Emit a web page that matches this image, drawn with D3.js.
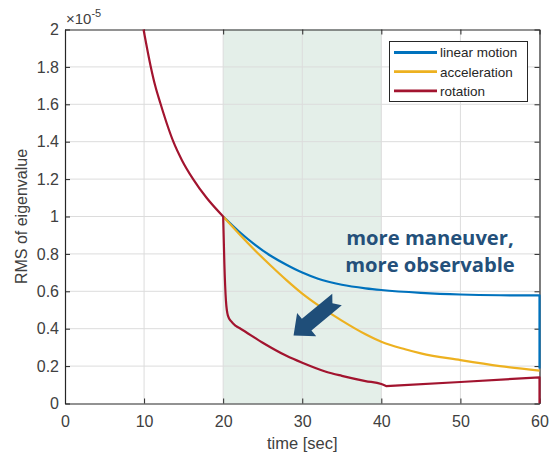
<!DOCTYPE html>
<html><head><meta charset="utf-8">
<script src="https://cdn.jsdelivr.net/npm/d3@7"></script>
<style>body{margin:0;background:#fff}svg{display:block}</style>
</head><body>
<svg id="c" width="550" height="454"></svg>
<script>
// ---- data ----
const xTicks = [0,10,20,30,40,50,60];
const yTicks = [0,0.2,0.4,0.6,0.8,1,1.2,1.4,1.6,1.8,2];
const yTickLabels = ["0","0.2","0.4","0.6","0.8","1","1.2","1.4","1.6","1.8","2"];
const shadeRange = [20,40];
const seriesNames = ["linear motion","acceleration","rotation"];
const seriesColors = ["#0072BD","#EDB120","#A2142F"];
// smooth pieces of each curve (pieces joined with straight segments)
const linearMotion = [[[20,1.0],[22,0.92],[24,0.85],[26,0.79],[28,0.742],[30,0.70],[32,0.667],[35,0.635],[38,0.616],[40,0.607],[45,0.592],[50,0.583],[55,0.579],[60,0.578]]];
const acceleration = [[[20,1.0],[22,0.908],[24,0.82],[26,0.738],[28,0.66],[30,0.588],[32,0.526],[35,0.443],[38,0.37],[40,0.33],[43,0.29],[45,0.268],[50,0.232],[55,0.2],[60,0.176]]];
const rotation = [
  [[9.93,2.0],[10.85,1.8],[11.4,1.7],[12.1,1.6],[12.85,1.5],[13.7,1.4],[14.8,1.3],[16.2,1.2],[17.9,1.1],[20,1.0]],
  [[20,1.0],[20.15,0.75],[20.35,0.55],[20.6,0.47],[21,0.44],[21.6,0.415],[22.2,0.4],[25,0.325],[28,0.255],[30,0.218],[33,0.17],[35,0.148],[38,0.12],[40,0.104],[40.6,0.093]],
  [[40.6,0.093],[50,0.115],[60,0.14]]
];
// final vertical drop of each curve at t = 60
const endDrop = [[60,0.187],[60,0.176],[60,0.0]];
const seriesData = [linearMotion, acceleration, rotation];
const annoLines = ["more maneuver,","more observable"];
const arrowTail = [34.4,0.556];
const arrowTip = [28.9,0.364];

// ---- layout ----
const L=65, R=539.5, T=29.5, B=403.5;
const svg = d3.select("#c");
const x = d3.scaleLinear().domain([0,60]).range([L,R]);
const y = d3.scaleLinear().domain([0,2]).range([B,T]);
const axisColor = "#262626";
const font = "'Liberation Sans', Arial, sans-serif";

// shading
svg.append("rect").attr("x",x(shadeRange[0])).attr("y",T)
  .attr("width",x(shadeRange[1])-x(shadeRange[0])).attr("height",B-T)
  .attr("fill","#e4efe9");

// grid
const g = svg.append("g");
g.selectAll(".gx").data(xTicks.slice(1,-1)).join("line")
  .attr("x1",d=>x(d)).attr("x2",d=>x(d)).attr("y1",T).attr("y2",B)
  .attr("stroke","#dcdcdc").attr("stroke-width",1);
g.selectAll(".gy").data(yTicks.slice(1,-1)).join("line")
  .attr("y1",d=>y(d)).attr("y2",d=>y(d)).attr("x1",L).attr("x2",R)
  .attr("stroke","#dcdcdc").attr("stroke-width",1);

// axes
const xa = svg.append("g").attr("transform",`translate(0,${B})`)
  .call(d3.axisBottom(x).tickValues(xTicks).tickSizeInner(-5).tickSizeOuter(0).tickPadding(12));
const xt = svg.append("g").attr("transform",`translate(0,${T})`)
  .call(d3.axisTop(x).tickValues(xTicks).tickSizeInner(-5).tickSizeOuter(0).tickFormat(""));
const ya = svg.append("g").attr("transform",`translate(${L},0)`)
  .call(d3.axisLeft(y).tickValues(yTicks).tickFormat((d,i)=>yTickLabels[i]).tickSizeInner(-5).tickSizeOuter(0).tickPadding(6));
const yr = svg.append("g").attr("transform",`translate(${R},0)`)
  .call(d3.axisRight(y).tickValues(yTicks).tickSizeInner(-5).tickSizeOuter(0).tickFormat(""));
[xa,xt,ya,yr].forEach(a=>{
  a.selectAll("path").attr("stroke",axisColor).attr("stroke-width",1.2);
  a.selectAll("line").attr("stroke",axisColor);
  a.selectAll("text").attr("fill","#404040").attr("font-family",font).attr("font-size",16);
});

// lines
const smooth = d3.line().x(d=>x(d[0])).y(d=>y(d[1])).curve(d3.curveMonotoneX);
const straight = d3.line().x(d=>x(d[0])).y(d=>y(d[1]));
svg.append("defs").append("clipPath").attr("id","clip").append("rect")
  .attr("x",L).attr("y",T-1).attr("width",R-L+2).attr("height",B-T+1);
seriesData.forEach((pieces,i)=>{
  let d = "";
  pieces.forEach((s,k)=>{
    const p = smooth(s);
    d += (k===0 ? p : p.replace(/^M/,"L"));
  });
  const lastPiece = pieces[pieces.length-1];
  const last = lastPiece[lastPiece.length-1];
  d += straight([last,endDrop[i]]).replace(/^M/,"L");
  svg.append("path").attr("d",d)
    .attr("fill","none")
    .attr("stroke",seriesColors[i]).attr("stroke-width",2.2)
    .attr("stroke-linejoin","round").attr("clip-path","url(#clip)");
});

// exponent label
const ex = svg.append("text").attr("x",L+1).attr("y",24).attr("fill","#404040")
  .attr("font-family",font).attr("font-size",15);
ex.append("tspan").text("\u00d710");
ex.append("tspan").attr("dy",-7).attr("font-size",11).text("-5");

// axis labels
svg.append("text").attr("x",x(30)).attr("y",449).attr("text-anchor","middle")
  .attr("fill","#404040").attr("font-family",font).attr("font-size",16.5).text("time [sec]");
svg.append("text").attr("transform",`translate(27,${(T+B)/2}) rotate(-90)`).attr("text-anchor","middle")
  .attr("fill","#404040").attr("font-family",font).attr("font-size",16).text("RMS of eigenvalue");

// legend
const lg = svg.append("g");
lg.append("rect").attr("x",389.5).attr("y",41.5).attr("width",138).attr("height",60)
  .attr("fill","#fff").attr("stroke",axisColor).attr("stroke-width",1);
seriesNames.forEach((n,i)=>{
  const yy = 52.5 + i*19.2;
  lg.append("line").attr("x1",394).attr("x2",437).attr("y1",yy).attr("y2",yy)
    .attr("stroke",seriesColors[i]).attr("stroke-width",2.8);
  lg.append("text").attr("x",440).attr("y",yy+4.8).attr("fill","#262626")
    .attr("font-family",font).attr("font-size",13.5).text(n);
});

// annotation
annoLines.forEach((t,i)=>{
  svg.append("text").attr("x",430).attr("y",245+i*26.5).attr("text-anchor","middle")
    .attr("fill","#24507a").attr("font-family","'Open Sans', sans-serif").attr("font-weight","bold")
    .attr("font-size",20.2).text(t);
});
// arrow
const p0=[x(arrowTail[0]),y(arrowTail[1])], p1=[x(arrowTip[0]),y(arrowTip[1])];
const dx=p1[0]-p0[0], dy=p1[1]-p0[1], len=Math.hypot(dx,dy);
const ux=dx/len, uy=dy/len, px=-uy, py=ux;
const hl=17, hw=15, sw=7.5, notch=6;
const hb=[p1[0]-ux*hl, p1[1]-uy*hl];
const pts=[
  [p0[0]+px*sw, p0[1]+py*sw],
  [hb[0]+px*sw, hb[1]+py*sw],
  [hb[0]+px*hw, hb[1]+py*hw],
  p1,
  [hb[0]-px*hw, hb[1]-py*hw],
  [hb[0]-px*sw, hb[1]-py*sw],
  [p0[0]-px*sw, p0[1]-py*sw],
  [p0[0]+ux*notch, p0[1]+uy*notch]
];
svg.append("path").attr("d",d3.line()(pts)+"Z").attr("fill","#1f4e79");
</script>
</body></html>
